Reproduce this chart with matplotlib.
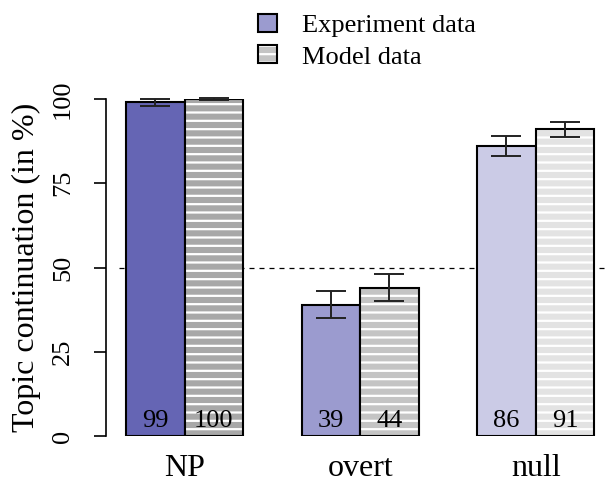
import numpy as np
import matplotlib
matplotlib.use("Agg")
import matplotlib.pyplot as plt
from matplotlib.patches import Patch

plt.rcParams['font.family'] = ['Liberation Serif', 'DejaVu Serif']
plt.rcParams['hatch.linewidth'] = 1.6

categories = ['NP', 'overt', 'null']
exp_vals = [99, 39, 86]
model_vals = [100, 44, 91]
exp_err = [1.0, 4.0, 2.9]
model_err = [0.4, 4.0, 2.2]
exp_colors = ['#6565b4', '#9b9bcf', '#cbcbe6']
model_colors = ['#a8a8a8', '#c4c4c4', '#e3e3e3']
yticks = [0, 25, 50, 75, 100]

W, H = 608, 487
fig = plt.figure(figsize=(W / 100, H / 100), dpi=100)
# axes placed in pixel units
left, right, top, bottom = 106, 613, 99, 436
ax = fig.add_axes([left / W, (H - bottom) / H, (right - left) / W, (bottom - top) / H])

centers = np.array([2.0, 5.0, 8.0])
xe = centers - 0.5
xm = centers + 0.5

ax.bar(xe, exp_vals, width=1.0, color=exp_colors, edgecolor='black', linewidth=1.5, zorder=2)
# model bars: grey fill with white horizontal stripes, then black outline
ax.bar(xm, model_vals, width=1.0, color=model_colors, edgecolor='white', linewidth=0,
       hatch='--', zorder=2)
ax.bar(xm, model_vals, width=1.0, fill=False, edgecolor='black', linewidth=1.5, zorder=3)

ax.errorbar(xe, exp_vals, yerr=exp_err, fmt='none', ecolor='#222222', elinewidth=1.4,
            capsize=11, capthick=1.4, zorder=4, clip_on=False)
ax.errorbar(xm, model_vals, yerr=model_err, fmt='none', ecolor='#222222', elinewidth=1.4,
            capsize=11, capthick=1.4, zorder=4, clip_on=False)

for x, v in zip(xe, exp_vals):
    ax.text(x, 4.5, str(v), ha='center', va='center', fontsize=19, zorder=5)
for x, v in zip(xm, model_vals):
    ax.text(x, 4.5, str(v), ha='center', va='center', fontsize=19, zorder=5)

ax.axhline(50, xmin=0.025, color='black', linestyle=(0, (4, 4)), linewidth=0.9, zorder=1)

ax.set_xlim(0.658, 9.32)
ax.set_ylim(0, 100)
for s in ['top', 'right', 'bottom']:
    ax.spines[s].set_visible(False)
ax.spines['left'].set_bounds(0, 100)
ax.spines['left'].set_linewidth(1.2)
ax.set_yticks(yticks)
ax.set_yticklabels([str(t) for t in yticks], fontsize=19, rotation=90, va='center')
ax.tick_params(axis='y', length=9, width=1.2, pad=14)
ax.set_xticks(centers)
ax.set_xticklabels(categories, fontsize=23)
ax.tick_params(axis='x', length=0, pad=13)
ax.set_ylabel('Topic continuation (in %)', fontsize=23, labelpad=8)

h_exp = Patch(facecolor='#9b9bcf', edgecolor='black', linewidth=1.5)
h_mod = (Patch(facecolor='#c4c4c4', edgecolor='white', linewidth=0, hatch='--'),
         Patch(fill=False, edgecolor='black', linewidth=1.5))
fig.legend([h_exp, h_mod], ['Experiment data', 'Model data'], loc='upper left',
           bbox_to_anchor=(245 / W, 1 - 1 / H), frameon=False, fontsize=19,
           borderpad=0, handlelength=0.72, handleheight=0.65, handletextpad=0.95,
           labelspacing=0.31)

fig.savefig('out.png', dpi=100)
